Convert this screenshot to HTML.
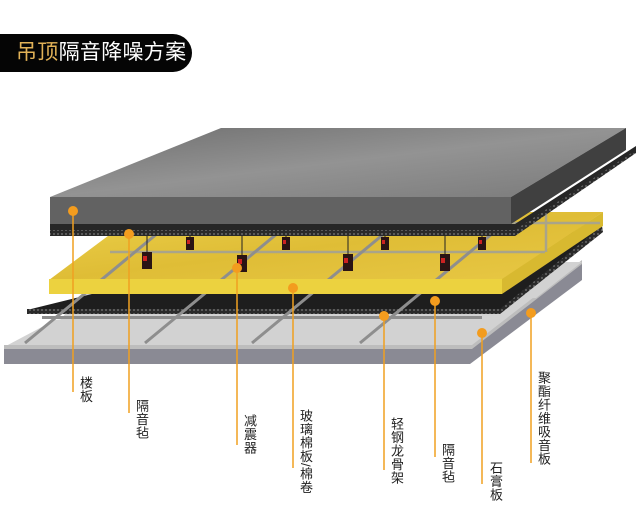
<!DOCTYPE html>
<html><head><meta charset="utf-8"><style>
html,body{margin:0;padding:0;background:#fff;}
body{width:640px;height:506px;position:relative;overflow:hidden;font-family:"Liberation Sans","Noto Sans CJK SC",sans-serif;}
.title{position:absolute;left:0;top:34px;width:192px;height:38px;background:#050505;border-radius:0 19px 19px 0;color:#fff;font-size:21px;line-height:38px;padding-left:16px;box-sizing:border-box;letter-spacing:0.3px;}
.title span{color:#e2b257;}
.lb{position:absolute;writing-mode:vertical-rl;font-size:13px;line-height:14px;color:#222;letter-spacing:0.5px;font-family:"Liberation Sans","Noto Sans CJK SC",sans-serif;}
</style></head><body>
<div class="title"><span>吊顶</span>隔音降噪方案</div>
<svg width="640" height="506" style="position:absolute;left:0;top:0">
<defs>
<linearGradient id="cg" x1="0" y1="0" x2="1" y2="1"><stop offset="0" stop-color="#6e6e6e"/><stop offset="0.5" stop-color="#939393"/><stop offset="1" stop-color="#7a7a7a"/></linearGradient>
<linearGradient id="yg" x1="0" y1="0" x2="1" y2="1"><stop offset="0" stop-color="#ecd04a"/><stop offset="0.5" stop-color="#dfbd36"/><stop offset="1" stop-color="#e8c845"/></linearGradient>
<pattern id="mesh" width="4" height="4" patternUnits="userSpaceOnUse"><rect width="4" height="4" fill="#2a2a2a"/><circle cx="2" cy="2" r="1" fill="#6a6a6a"/></pattern>
</defs>
<polygon points="4,347 472,347 582,262 582,280 470,364 4,364" fill="#8a8a94"/>
<polygon points="55,320 582,262 472,347 4,347" fill="#d2d2d2"/>
<polygon points="4,345 472,345 582,260 582,264 472,349 4,349" fill="#bdbdbd"/>
<polygon points="110,262 582,262 536,298 60,320" fill="#d2d2d2"/>
<rect x="42" y="316" width="440" height="3" fill="#8d8d8d"/>
<polygon points="100,292 602,228 500,310 27,310" fill="#1e1e1e"/>
<polygon points="27,309 500,309 602,226 603,232 500,314 27,314" fill="url(#mesh)"/>
<polygon points="140,212 603,212 502,280 49,280" fill="url(#yg)"/>
<polygon points="49,279 502,279 502,294 49,294" fill="#ecd23f"/>
<polygon points="502,279 603,212 603,226 502,294" fill="#d8b930"/>
<g stroke="#a9a48a" stroke-width="2.5" fill="none">
<line x1="110" y1="252" x2="545" y2="252"/>
<line x1="420" y1="223" x2="600" y2="223"/>
<line x1="546" y1="212" x2="546" y2="252"/>
</g>
<g stroke="#8e8e8e" stroke-width="3" fill="none">
<line x1="25" y1="343" x2="170" y2="223"/>
<line x1="145" y1="343" x2="290" y2="223"/>
<line x1="252" y1="343" x2="397" y2="223"/>
<line x1="360" y1="343" x2="505" y2="223"/>
</g>
<polygon points="49,279 502,279 502,294 49,294" fill="#ecd23f"/>
<polygon points="50,224 515,224 636,146 636,152 515,236 50,236" fill="#262626"/>
<polygon points="50,230 515,230 636,150 636,153 515,236 50,236" fill="url(#mesh)"/>
<g>
<line x1="147" y1="236" x2="147" y2="262" stroke="#222"/>
<line x1="242" y1="236" x2="242" y2="262" stroke="#222"/>
<line x1="348" y1="236" x2="348" y2="262" stroke="#222"/>
<line x1="445" y1="236" x2="445" y2="262" stroke="#222"/>
<line x1="190" y1="236" x2="190" y2="250" stroke="#222"/>
<line x1="286" y1="236" x2="286" y2="250" stroke="#222"/>
<line x1="385" y1="236" x2="385" y2="250" stroke="#222"/>
<line x1="482" y1="236" x2="482" y2="250" stroke="#222"/>
<rect x="186" y="237" width="8" height="13" fill="#2a1414"/><rect x="187" y="240" width="3" height="4" fill="#c22"/>
<rect x="282" y="237" width="8" height="13" fill="#2a1414"/><rect x="283" y="240" width="3" height="4" fill="#c22"/>
<rect x="381" y="237" width="8" height="13" fill="#2a1414"/><rect x="382" y="240" width="3" height="4" fill="#c22"/>
<rect x="478" y="237" width="8" height="13" fill="#2a1414"/><rect x="479" y="240" width="3" height="4" fill="#c22"/>
<rect x="142" y="252" width="10" height="17" fill="#2a1414"/><rect x="143" y="256" width="4" height="5" fill="#c22"/>
<rect x="237" y="255" width="10" height="17" fill="#2a1414"/><rect x="238" y="259" width="4" height="5" fill="#c22"/>
<rect x="343" y="254" width="10" height="17" fill="#2a1414"/><rect x="344" y="258" width="4" height="5" fill="#c22"/>
<rect x="440" y="254" width="10" height="17" fill="#2a1414"/><rect x="441" y="258" width="4" height="5" fill="#c22"/>
</g>
<polygon points="221,128 626,128 511,197 50,197" fill="url(#cg)"/>
<polygon points="50,197 511,197 511,224 50,224" fill="#626262"/>
<polygon points="511,197 626,128 626,150 511,224" fill="#404040"/>
<g stroke="#f0a020" stroke-width="1.5">
<line x1="73" y1="211" x2="73" y2="392"/>
<line x1="129" y1="234" x2="129" y2="413"/>
<line x1="237" y1="268" x2="237" y2="445"/>
<line x1="293" y1="288" x2="293" y2="468"/>
<line x1="384" y1="316" x2="384" y2="470"/>
<line x1="435" y1="301" x2="435" y2="457"/>
<line x1="482" y1="333" x2="482" y2="484"/>
<line x1="531" y1="313" x2="531" y2="463"/>
</g>
<g fill="#f39c1e">
<circle cx="73" cy="211" r="5"/><circle cx="129" cy="234" r="5"/><circle cx="237" cy="268" r="5"/><circle cx="293" cy="288" r="5"/>
<circle cx="384" cy="316" r="5"/><circle cx="435" cy="301" r="5"/><circle cx="482" cy="333" r="5"/><circle cx="531" cy="313" r="5"/>
</g>
</svg>
<div class="lb" style="left:78px;top:376px">楼板</div>
<div class="lb" style="left:134px;top:399px">隔音毡</div>
<div class="lb" style="left:242px;top:414px">减震器</div>
<div class="lb" style="left:298px;top:409px">玻璃棉板/棉卷</div>
<div class="lb" style="left:389px;top:417px">轻钢龙骨架</div>
<div class="lb" style="left:440px;top:443px">隔音毡</div>
<div class="lb" style="left:488px;top:461px">石膏板</div>
<div class="lb" style="left:536px;top:371px">聚酯纤维吸音板</div>
</body></html>
